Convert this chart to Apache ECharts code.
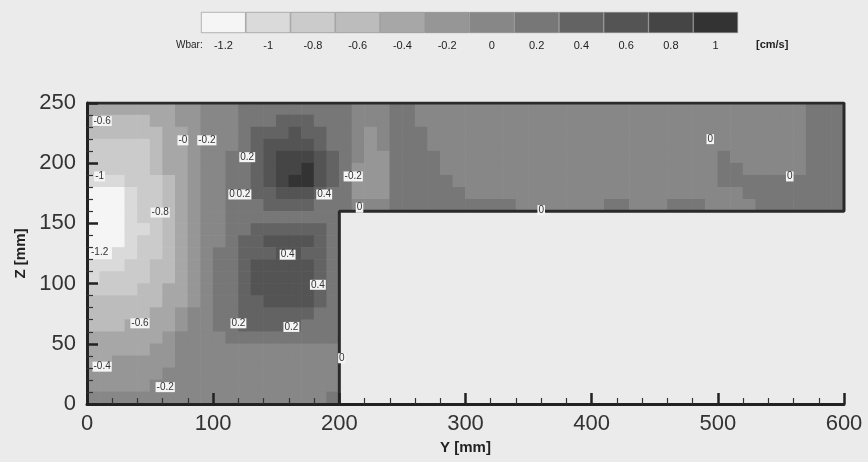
<!DOCTYPE html>
<html><head><meta charset="utf-8">
<script src="https://cdn.jsdelivr.net/npm/echarts@6/dist/echarts.min.js"></script>
<style>html,body{margin:0;padding:0;background:#ebebeb}#c{width:868px;height:462px}</style>
</head><body><div id="c"></div>
<script>
// Legend levels (upper bound of each colour box) and labels
const legendLevels = [-1.2, -1, -0.8, -0.6, -0.4, -0.2, 0, 0.2, 0.4, 0.6, 0.8, 1];
const legendLabels = ['-1.2', '-1', '-0.8', '-0.6', '-0.4', '-0.2', '0', '0.2', '0.4', '0.6', '0.8', '1'];
const legendColors = ['#f5f5f5', '#dadada', '#cbcbcb', '#bcbcbc', '#a7a7a7', '#969696', '#878787', '#777777', '#636363', '#545454', '#454545', '#333333'];

// Axis ticks
const yTicks = [0, 100, 200, 300, 400, 500, 600];
const zTicks = [0, 50, 100, 150, 200, 250];

// Wbar [cm/s], 10 mm cells.
// Left block: Y 0..200, rows from Z=250 (top) down to Z=0
const leftRows = [
 [-0.5,-0.5,-0.5,-0.5,-0.5,-0.5,-0.5,-0.3,-0.3,-0.1,-0.1,-0.1,0.1,0.1,0.1,0.1,0.1,0.1,0.1,0.1],
 [-0.5,-0.7,-0.7,-0.7,-0.7,-0.5,-0.5,-0.3,-0.3,-0.1,-0.1,-0.1,0.1,0.1,0.1,0.3,0.3,0.3,0.1,0.1],
 [-0.7,-0.7,-0.7,-0.7,-0.7,-0.7,-0.5,-0.5,-0.3,-0.1,-0.1,-0.1,0.1,0.3,0.3,0.3,0.5,0.3,0.3,0.1],
 [-0.9,-0.9,-0.9,-0.9,-0.9,-0.7,-0.5,-0.5,-0.3,-0.1,-0.1,-0.1,0.1,0.3,0.5,0.5,0.5,0.5,0.3,0.1],
 [-0.9,-0.9,-0.9,-0.9,-0.9,-0.7,-0.5,-0.5,-0.3,-0.1,-0.1,0.1,0.1,0.3,0.5,0.7,0.7,0.7,0.5,0.3],
 [-0.9,-0.9,-0.9,-0.9,-0.9,-0.7,-0.5,-0.5,-0.3,-0.1,-0.1,0.1,0.1,0.3,0.5,0.7,0.7,0.85,0.5,0.3],
 [-1.1,-1.1,-1.1,-0.9,-0.9,-0.9,-0.7,-0.5,-0.3,-0.1,-0.1,0.1,0.1,0.3,0.5,0.7,0.85,0.85,0.5,0.3],
 [-1.3,-1.3,-1.3,-1.1,-0.9,-0.9,-0.7,-0.5,-0.3,-0.1,-0.1,0.1,0.1,0.3,0.3,0.5,0.5,0.5,0.3,0.1],
 [-1.3,-1.3,-1.3,-1.1,-0.9,-0.9,-0.7,-0.5,-0.3,-0.1,-0.1,0.1,0.1,0.1,0.3,0.3,0.3,0.3,0.1,0.1],
 [-1.3,-1.3,-1.3,-1.1,-0.9,-0.9,-0.7,-0.5,-0.3,-0.1,-0.1,0.1,0.1,0.1,0.1,0.1,0.1,0.1,0.1,0.1],
 [-1.3,-1.3,-1.3,-1.1,-1.1,-0.9,-0.7,-0.5,-0.3,-0.1,-0.1,0.1,0.1,0.3,0.3,0.3,0.3,0.3,0.3,0.1],
 [-1.3,-1.3,-1.3,-1.1,-0.9,-0.9,-0.7,-0.5,-0.3,-0.1,-0.1,0.1,0.3,0.3,0.5,0.5,0.5,0.5,0.3,0.1],
 [-1.3,-1.3,-1.1,-1.1,-0.9,-0.9,-0.7,-0.5,-0.3,-0.1,0.1,0.1,0.3,0.3,0.3,0.5,0.5,0.3,0.3,0.1],
 [-1.1,-1.1,-1.1,-0.9,-0.9,-0.7,-0.7,-0.5,-0.3,-0.1,0.1,0.1,0.3,0.5,0.5,0.5,0.5,0.5,0.3,0.1],
 [-1.1,-0.9,-0.9,-0.9,-0.9,-0.7,-0.7,-0.5,-0.3,-0.1,0.1,0.1,0.3,0.5,0.5,0.5,0.5,0.5,0.3,0.1],
 [-0.9,-0.9,-0.9,-0.9,-0.7,-0.7,-0.5,-0.5,-0.3,-0.1,0.1,0.1,0.3,0.5,0.5,0.5,0.5,0.5,0.3,0.1],
 [-0.7,-0.7,-0.7,-0.7,-0.7,-0.7,-0.5,-0.5,-0.3,-0.1,0.1,0.1,0.3,0.3,0.5,0.5,0.5,0.5,0.3,0.1],
 [-0.7,-0.7,-0.7,-0.7,-0.7,-0.5,-0.5,-0.3,-0.1,-0.1,0.1,0.1,0.3,0.3,0.3,0.3,0.3,0.3,0.1,0.1],
 [-0.7,-0.7,-0.7,-0.5,-0.5,-0.5,-0.5,-0.3,-0.1,-0.1,0.1,0.1,0.3,0.3,0.3,0.3,0.3,0.1,0.1,0.1],
 [-0.5,-0.5,-0.5,-0.5,-0.5,-0.5,-0.3,-0.1,-0.1,-0.1,-0.1,0.1,0.1,0.1,0.1,0.1,0.1,0.1,0.1,0.1],
 [-0.5,-0.5,-0.5,-0.5,-0.5,-0.3,-0.3,-0.1,-0.1,-0.1,-0.1,-0.1,-0.1,-0.1,-0.1,-0.1,-0.1,-0.1,-0.1,-0.1],
 [-0.5,-0.5,-0.3,-0.3,-0.3,-0.3,-0.3,-0.1,-0.1,-0.1,-0.1,-0.1,-0.1,-0.1,-0.1,-0.1,-0.1,-0.1,-0.1,-0.1],
 [-0.3,-0.3,-0.3,-0.3,-0.3,-0.3,-0.1,-0.1,-0.1,-0.1,-0.1,-0.1,-0.1,-0.1,-0.1,-0.1,-0.1,-0.1,-0.1,-0.1],
 [-0.3,-0.3,-0.3,-0.3,-0.3,-0.1,-0.1,-0.1,-0.1,-0.1,-0.1,-0.1,-0.1,-0.1,-0.1,-0.1,-0.1,-0.1,-0.1,-0.1],
 [-0.1,-0.1,-0.1,-0.1,-0.1,-0.1,-0.1,-0.1,-0.1,-0.1,-0.1,-0.1,-0.1,-0.1,-0.1,-0.1,-0.1,-0.1,-0.1,0.05]
];
// Right block: Y 200..600, rows from Z=250 down to Z=160
const rightRows = [
 [0.1,-0.1,-0.1,-0.1,0.1,0.1,-0.1,-0.1,-0.1,-0.1,-0.1,-0.1,-0.1,-0.1,-0.1,-0.1,-0.1,-0.1,-0.1,-0.1,-0.1,-0.1,-0.1,-0.1,-0.1,-0.1,-0.1,-0.1,-0.1,-0.1,-0.1,-0.1,-0.1,-0.1,-0.1,-0.1,-0.1,0.1,0.1,0.1],
 [0.1,-0.1,-0.1,-0.1,0.1,0.1,-0.1,-0.1,-0.1,-0.1,-0.1,-0.1,-0.1,-0.1,-0.1,-0.1,-0.1,-0.1,-0.1,-0.1,-0.1,-0.1,-0.1,-0.1,-0.1,-0.1,-0.1,-0.1,-0.1,-0.1,-0.1,-0.1,-0.1,-0.1,-0.1,-0.1,-0.1,0.1,0.1,0.1],
 [0.1,-0.1,-0.3,-0.1,0.1,0.1,0.1,-0.1,-0.1,-0.1,-0.1,-0.1,-0.1,-0.1,-0.1,-0.1,-0.1,-0.1,-0.1,-0.1,-0.1,-0.1,-0.1,-0.1,-0.1,-0.1,-0.1,-0.1,-0.1,-0.1,-0.1,-0.1,-0.1,-0.1,-0.1,-0.1,-0.1,0.1,0.1,0.1],
 [0.1,-0.1,-0.3,-0.1,0.1,0.1,0.1,-0.1,-0.1,-0.1,-0.1,-0.1,-0.1,-0.1,-0.1,-0.1,-0.1,-0.1,-0.1,-0.1,-0.1,-0.1,-0.1,-0.1,-0.1,-0.1,-0.1,-0.1,-0.1,-0.1,-0.1,-0.1,-0.1,-0.1,-0.1,-0.1,-0.1,0.1,0.1,0.1],
 [0.1,-0.1,-0.3,-0.3,0.1,0.1,0.1,0.1,-0.1,-0.1,-0.1,-0.1,-0.1,-0.1,-0.1,-0.1,-0.1,-0.1,-0.1,-0.1,-0.1,-0.1,-0.1,-0.1,-0.1,-0.1,-0.1,-0.1,-0.1,-0.1,0.1,-0.1,-0.1,-0.1,-0.1,-0.1,-0.1,0.1,0.1,0.1],
 [0.1,-0.3,-0.3,-0.3,0.1,0.1,0.1,0.1,-0.1,-0.1,-0.1,-0.1,-0.1,-0.1,-0.1,-0.1,-0.1,-0.1,-0.1,-0.1,-0.1,-0.1,-0.1,-0.1,-0.1,-0.1,-0.1,-0.1,-0.1,-0.1,0.1,0.1,-0.1,-0.1,-0.1,-0.1,-0.1,0.1,0.1,0.1],
 [0.1,-0.3,-0.3,-0.3,0.1,0.1,0.1,0.1,0.1,-0.1,-0.1,-0.1,-0.1,-0.1,-0.1,-0.1,-0.1,-0.1,-0.1,-0.1,-0.1,-0.1,-0.1,-0.1,-0.1,-0.1,-0.1,-0.1,-0.1,-0.1,0.1,0.1,0.1,0.1,0.1,0.1,0.1,0.1,0.1,0.1],
 [0.1,-0.3,-0.3,-0.3,0.1,0.1,0.1,0.1,0.1,0.1,-0.1,-0.1,-0.1,-0.1,-0.1,-0.1,-0.1,-0.1,-0.1,-0.1,-0.1,-0.1,-0.1,-0.1,-0.1,-0.1,-0.1,-0.1,-0.1,-0.1,-0.1,-0.1,0.1,0.1,0.1,0.1,0.1,0.1,0.1,0.1],
 [0.1,-0.1,-0.1,-0.1,0.1,0.1,0.1,0.1,0.1,0.1,0.1,0.1,0.1,0.1,-0.1,-0.1,-0.1,-0.1,-0.1,-0.1,-0.1,0.1,0.1,-0.1,-0.1,-0.1,0.1,0.1,0.1,-0.1,-0.1,-0.1,-0.1,0.1,0.1,0.1,0.1,0.1,0.1,0.1]
];
// Outline of the flow domain (Y, Z in mm)
const domainOutline = [[0, 250], [600, 250], [600, 160], [200, 160], [200, 0]];
// Contour line labels [Y, Z, text]
const contourLabels = [
 [12, 235, '-0.6'], [76, 219, '-0'], [95, 219, '-0.2'], [127, 205, '0.2'],
 [115, 174, '0'], [124, 174, '0.2'], [188, 174, '0.4'], [211, 189, '-0.2'],
 [10, 189, '-1'], [58, 159, '-0.8'], [10, 126, '-1.2'], [159, 124, '0.4'],
 [183, 99, '0.4'], [42, 67, '-0.6'], [120, 67, '0.2'], [162, 64, '0.2'],
 [12, 31, '-0.4'], [62, 14, '-0.2'], [202, 38, '0'], [216, 163, '0'],
 [360, 161, '0'], [494, 220, '0'], [557, 189, '0']
];

const cellData = [];
leftRows.forEach((row, r) => row.forEach((v, c) => cellData.push([c * 10, c * 10 + 10, 240 - r * 10, 250 - r * 10, v])));
rightRows.forEach((row, r) => row.forEach((v, c) => cellData.push([200 + c * 10, 210 + c * 10, 240 - r * 10, 250 - r * 10, v])));

const pieces = legendColors.map((col, i) => {
  if (i === 0) return { lt: legendLevels[0], color: col };
  if (i === legendColors.length - 1) return { gte: legendLevels[i - 1], color: col };
  return { gte: legendLevels[i - 1], lt: legendLevels[i], color: col };
});

const FONT = 'Liberation Sans, Arial, sans-serif';
const chart = echarts.init(document.getElementById('c'), null, { renderer: 'canvas' });
chart.setOption({
  backgroundColor: '#ebebeb',
  animation: false,
  grid: [
    { left: 87, right: 24, top: 103, bottom: 58 },
    { left: 201, top: 12, width: 537, height: 21 }
  ],
  xAxis: [{
    gridIndex: 0, type: 'value', min: yTicks[0], max: yTicks[yTicks.length - 1], interval: 100, z: 10,
    axisLine: { lineStyle: { color: '#222', width: 3 } },
    axisTick: { inside: true, length: 11, lineStyle: { color: '#222', width: 2.5 } },
    minorTick: { show: true, splitNumber: 5, length: 6, lineStyle: { color: '#333', width: 1.2 } },
    splitLine: { show: false },
    axisLabel: { fontSize: 22, color: '#333', margin: 9, fontFamily: FONT },
    name: 'Y [mm]', nameLocation: 'middle', nameGap: 34,
    nameTextStyle: { fontSize: 15, fontWeight: 'bold', color: '#222', fontFamily: FONT }
  }, {
    gridIndex: 1, type: 'category', data: legendLabels,
    axisLine: { show: false }, axisTick: { show: false },
    axisLabel: { fontSize: 11, color: '#222', margin: 7, fontFamily: FONT }
  }],
  yAxis: [{
    gridIndex: 0, type: 'value', min: zTicks[0], max: zTicks[zTicks.length - 1], interval: 50, z: 10,
    axisLine: { lineStyle: { color: '#222', width: 3 } },
    axisTick: { inside: true, length: 11, lineStyle: { color: '#222', width: 2.5 } },
    minorTick: { show: true, splitNumber: 5, length: 6, lineStyle: { color: '#333', width: 1.2 } },
    splitLine: { show: false },
    axisLabel: { fontSize: 22, color: '#333', margin: 11, fontFamily: FONT },
    name: 'Z [mm]', nameLocation: 'middle', nameGap: 54, nameRotate: 90,
    nameTextStyle: { fontSize: 15, fontWeight: 'bold', color: '#222', fontFamily: FONT }
  }, {
    gridIndex: 1, type: 'value', min: 0, max: 1, show: false
  }],
  visualMap: { type: 'piecewise', show: false, seriesIndex: 0, dimension: 4, pieces: pieces },
  graphic: [
    { type: 'text', left: 176, top: 40, style: { text: 'Wbar:', fontSize: 10, fill: '#222', fontFamily: FONT } },
    { type: 'text', left: 756, top: 39, style: { text: '[cm/s]', fontSize: 11, fontWeight: 'bold', fill: '#222', fontFamily: FONT } }
  ],
  series: [{
    type: 'custom', xAxisIndex: 0, yAxisIndex: 0, data: cellData, z: 2,
    encode: { x: [0, 1], y: [2, 3] },
    renderItem: function (params, api) {
      const p0 = api.coord([api.value(0), api.value(3)]);
      const p1 = api.coord([api.value(1), api.value(2)]);
      const col = api.visual('color');
      return { type: 'rect', shape: { x: p0[0] - 0.3, y: p0[1] - 0.3, width: p1[0] - p0[0] + 0.6, height: p1[1] - p0[1] + 0.6 },
        style: { fill: col, stroke: null } };
    }
  }, {
    type: 'line', xAxisIndex: 0, yAxisIndex: 0, data: domainOutline, symbol: 'none', z: 8,
    lineStyle: { color: '#2a2a2a', width: 3 }, silent: true
  }, {
    type: 'custom', xAxisIndex: 0, yAxisIndex: 0, data: contourLabels, z: 9,
    encode: { x: 0, y: 1 },
    renderItem: function (params, api) {
      const p = api.coord([api.value(0), api.value(1)]);
      return { type: 'text', x: p[0], y: p[1],
        style: { text: contourLabels[params.dataIndex][2], fontSize: 10, fontFamily: FONT, fill: '#333',
          align: 'center', verticalAlign: 'middle', backgroundColor: '#f4f4f4', padding: [0, 1] } };
    }
  }, {
    type: 'bar', xAxisIndex: 1, yAxisIndex: 1, barWidth: '100%', silent: true,
    data: legendColors.map(c => ({ value: 1, itemStyle: { color: c, borderColor: '#8a8a8a', borderWidth: 0.6 } }))
  }]
});
</script></body></html>
